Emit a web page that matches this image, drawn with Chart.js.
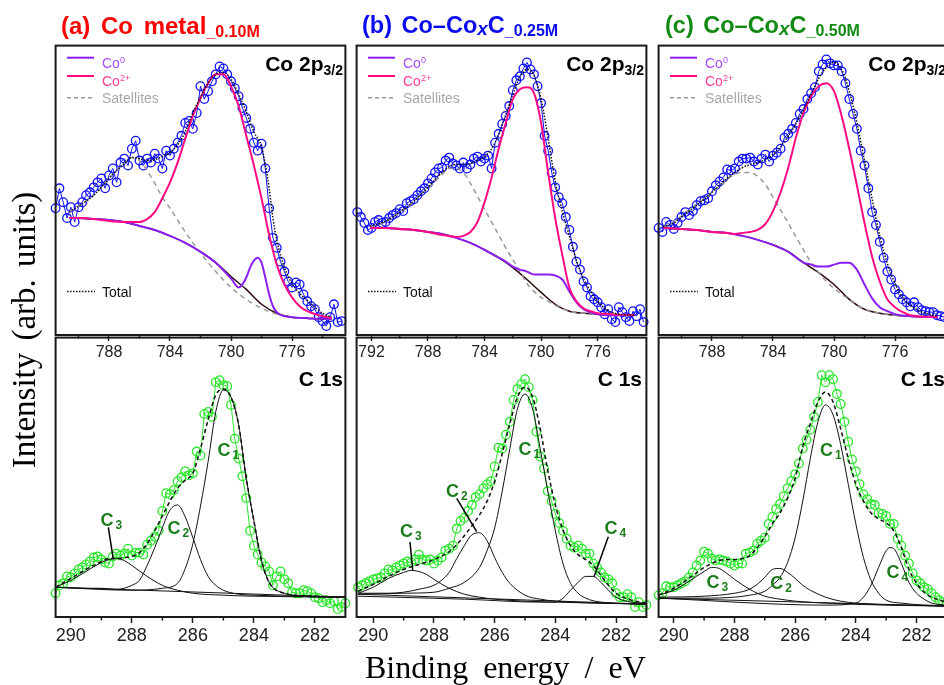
<!DOCTYPE html>
<html><head><meta charset="utf-8">
<script src="https://cdn.jsdelivr.net/npm/chart.js@4.4.1/dist/chart.umd.min.js"></script>
<style>
html,body{margin:0;padding:0;overflow:hidden;background:#fff}
#wrap{position:relative;width:944px;height:685px;overflow:hidden;font-family:"Liberation Sans",Arial,sans-serif}
canvas{position:absolute}
.t{position:absolute;white-space:nowrap}
.title{font-weight:bold;font-size:23.5px;line-height:23px;top:14px;word-spacing:3px}
.title sub{font-size:16px;vertical-align:-3px;word-spacing:0}
.title i{font-size:19px;vertical-align:-2px}
.co{font-weight:bold;font-size:21px;line-height:21px;top:53px}
.co sub{font-size:14px;vertical-align:-4px}
.c1s{font-weight:bold;font-size:21px;line-height:21px;top:368px}
.lg{font-size:14px;line-height:14px}
.lg sup{font-size:9px;vertical-align:5px}
.cl{font-weight:bold;font-size:18px;line-height:18px;color:#1b7d1b}
.cl sub{font-size:12px;vertical-align:-3px;margin-left:2px}
.ytitle{font-family:"Liberation Serif","Times New Roman",serif;font-size:33px;line-height:40px;width:400px;text-align:center;left:-176px;top:310px;transform:rotate(-90deg);word-spacing:4px}
.xtitle{font-family:"Liberation Serif","Times New Roman",serif;font-size:32px;line-height:32px;left:365px;top:651px;word-spacing:7px}
</style></head>
<body><div id="wrap">
<canvas id="aT"></canvas><canvas id="bT"></canvas><canvas id="cT"></canvas>
<canvas id="aB"></canvas><canvas id="bB"></canvas><canvas id="cB"></canvas>
<svg width="944" height="685" style="position:absolute;left:0;top:0">
 <g stroke-width="2" fill="none">
  <line x1="67" y1="57.7" x2="94" y2="57.7" stroke="#8b1ef2"/><line x1="67" y1="76" x2="94" y2="76" stroke="#ff0a82"/>
  <line x1="67" y1="97.7" x2="94" y2="97.7" stroke="#9a9a9a" stroke-width="1.6" stroke-dasharray="4,3"/>
  <line x1="67" y1="291.5" x2="95" y2="291.5" stroke="#111" stroke-width="1.5" stroke-dasharray="1.5,1.5"/>
  <line x1="368" y1="57.7" x2="395" y2="57.7" stroke="#8b1ef2"/><line x1="368" y1="76" x2="395" y2="76" stroke="#ff0a82"/>
  <line x1="368" y1="97.7" x2="395" y2="97.7" stroke="#9a9a9a" stroke-width="1.6" stroke-dasharray="4,3"/>
  <line x1="368" y1="291.5" x2="396" y2="291.5" stroke="#111" stroke-width="1.5" stroke-dasharray="1.5,1.5"/>
  <line x1="670" y1="57.7" x2="697" y2="57.7" stroke="#8b1ef2"/><line x1="670" y1="76" x2="697" y2="76" stroke="#ff0a82"/>
  <line x1="670" y1="97.7" x2="697" y2="97.7" stroke="#9a9a9a" stroke-width="1.6" stroke-dasharray="4,3"/>
  <line x1="670" y1="291.5" x2="698" y2="291.5" stroke="#111" stroke-width="1.5" stroke-dasharray="1.5,1.5"/>
 </g>
 <g stroke="#000" stroke-width="1.5">
  <line x1="108.3" y1="527.3" x2="113.3" y2="559.3"/>
  <line x1="456.7" y1="498.3" x2="476.7" y2="531.7"/>
  <line x1="410" y1="542" x2="412.7" y2="570"/>
  <line x1="608.3" y1="536.7" x2="594" y2="576.7"/>
 </g>
</svg>
<div class="t title" style="left:61px;color:#ff0000;font-size:24px;word-spacing:4px">(a) Co metal<sub>_0.10M</sub></div>
<div class="t title" style="left:362px;color:#0b0bf0">(b) Co–Co<i>x</i>C<sub>_0.25M</sub></div>
<div class="t title" style="left:665px;color:#138a13">(c) Co–Co<i>x</i>C<sub>_0.50M</sub></div>

<div class="t co" style="right:601px">Co 2p<sub>3/2</sub></div>
<div class="t co" style="right:300px">Co 2p<sub>3/2</sub></div>
<div class="t co" style="right:-2px">Co 2p<sub>3/2</sub></div>
<div class="t c1s" style="right:601px">C 1s</div>
<div class="t c1s" style="right:302px">C 1s</div>
<div class="t c1s" style="right:-1px">C 1s</div>

<div class="t lg" style="left:102px;top:52.7px;color:#a64df5">Co<sup>0</sup></div>
<div class="t lg" style="left:102px;top:70.7px;color:#ff3d9a">Co<sup>2+</sup></div>
<div class="t lg" style="left:102px;top:91.2px;color:#a8a8a8">Satellites</div>
<div class="t lg" style="left:102px;top:285px;color:#111">Total</div>
<div class="t lg" style="left:403px;top:52.7px;color:#a64df5">Co<sup>0</sup></div>
<div class="t lg" style="left:403px;top:70.7px;color:#ff3d9a">Co<sup>2+</sup></div>
<div class="t lg" style="left:403px;top:91.2px;color:#a8a8a8">Satellites</div>
<div class="t lg" style="left:403px;top:285px;color:#111">Total</div>
<div class="t lg" style="left:705px;top:52.7px;color:#a64df5">Co<sup>0</sup></div>
<div class="t lg" style="left:705px;top:70.7px;color:#ff3d9a">Co<sup>2+</sup></div>
<div class="t lg" style="left:705px;top:91.2px;color:#a8a8a8">Satellites</div>
<div class="t lg" style="left:705px;top:285px;color:#111">Total</div>

<div class="t cl" style="left:217.5px;top:440.7px">C<sub>1</sub></div>
<div class="t cl" style="left:167.5px;top:519.2px">C<sub>2</sub></div>
<div class="t cl" style="left:100.5px;top:510.7px">C<sub>3</sub></div>
<div class="t cl" style="left:518.5px;top:440.2px">C<sub>1</sub></div>
<div class="t cl" style="left:446px;top:481.7px">C<sub>2</sub></div>
<div class="t cl" style="left:400px;top:521.7px">C<sub>3</sub></div>
<div class="t cl" style="left:604.5px;top:518.7px">C<sub>4</sub></div>
<div class="t cl" style="left:820px;top:440.7px">C<sub>1</sub></div>
<div class="t cl" style="left:770.2px;top:574.2px">C<sub>2</sub></div>
<div class="t cl" style="left:706.5px;top:572.7px">C<sub>3</sub></div>
<div class="t cl" style="left:886.5px;top:562.7px">C<sub>4</sub></div>

<div class="t ytitle">Intensity (arb. units)</div>
<div class="t xtitle">Binding energy / eV</div>
</div>
<script>
// ---------- energies (eV) ----------
const E_CO = [791.5,791.25,791,790.75,790.5,790.25,790,789.75,789.5,789.25,789,788.75,788.5,788.25,788,787.75,787.5,787.25,787,786.75,786.5,786.25,786,785.75,785.5,785.25,785,784.75,784.5,784.25,784,783.75,783.5,783.25,783,782.75,782.5,782.25,782,781.75,781.5,781.25,781,780.75,780.5,780.25,780,779.75,779.5,779.25,779,778.75,778.5,778.25,778,777.75,777.5,777.25,777,776.75,776.5,776.25,776,775.75,775.5,775.25,775,774.75,774.5,774.25,774,773.75,773.5,773.25,773,772.75];
const E_CO_B = [793,792.75,792.5,792.25,792,791.75,791.5,791.25,791,790.75,790.5,790.25,790,789.75,789.5,789.25,789,788.75,788.5,788.25,788,787.75,787.5,787.25,787,786.75,786.5,786.25,786,785.75,785.5,785.25,785,784.75,784.5,784.25,784,783.75,783.5,783.25,783,782.75,782.5,782.25,782,781.75,781.5,781.25,781,780.75,780.5,780.25,780,779.75,779.5,779.25,779,778.75,778.5,778.25,778,777.75,777.5,777.25,777,776.75,776.5,776.25,776,775.75,775.5,775.25,775,774.75,774.5,774.25,774,773.75,773.5,773.25,773,772.75];
const E_C1S = [290.5,290.375,290.25,290.125,290,289.875,289.75,289.625,289.5,289.375,289.25,289.125,289,288.875,288.75,288.625,288.5,288.375,288.25,288.125,288,287.875,287.75,287.625,287.5,287.375,287.25,287.125,287,286.875,286.75,286.625,286.5,286.375,286.25,286.125,286,285.875,285.75,285.625,285.5,285.375,285.25,285.125,285,284.875,284.75,284.625,284.5,284.375,284.25,284.125,284,283.875,283.75,283.625,283.5,283.375,283.25,283.125,283,282.875,282.75,282.625,282.5,282.375,282.25,282.125,282,281.875,281.75,281.625,281.5,281.375,281.25,281.125,281];

// ---------- measured spectra ----------
const A_CO_I = [128,148,134,118,129,114,129,134,141,144,149,154,158,148,161,168,154,174,178,171,188,196,176,171,178,174,183,178,168,186,181,188,194,201,214,216,208,224,251,238,246,256,263,271,269,263,256,249,241,229,219,208,194,186,193,168,128,98,88,74,64,54,48,53,51,41,34,29,26,18,14,9,18,31,13,14];
const B_CO_I = [124,119,113,106,108,114,116,113,114,118,121,123,127,125,133,135,137,141,145,148,153,158,164,168,169,176,179,173,171,168,174,168,172,178,180,175,178,181,168,194,203,213,221,231,247,257,261,269,275,268,263,251,234,201,186,164,149,139,133,119,106,89,74,66,54,48,39,36,33,28,21,26,16,13,28,23,18,14,24,19,26,13];
const C_CO_I = [108,104,114,111,107,113,119,124,121,125,131,135,136,138,145,151,155,159,167,166,168,175,178,178,179,175,172,178,182,175,181,184,188,199,203,208,214,223,228,238,244,250,266,273,278,274,272,272,266,254,238,223,208,186,171,148,124,111,94,78,64,56,46,41,36,33,29,33,28,25,24,23,23,20,19,18];
const A_C1S_I = [24,32,34,41,40,44,48,50,53,56,60,61,58,55,54,61,64,62,64,69,62,65,65,63,73,77,81,87,107,125,124,128,137,141,147,143,145,167,163,205,207,202,237,239,234,233,214,180,160,142,120,87,72,63,55,51,46,32,41,46,38,34,25,24,24,27,26,24,20,19,15,17,14,16,8,10,14];
const B_C1S_I = [30,32,34,36,38,39,40,44,48,47,50,52,54,56,55,58,63,58,57,58,54,57,60,67,69,72,89,97,100,107,113,121,124,130,134,137,152,171,170,184,197,219,230,235,240,232,219,187,162,150,127,117,104,95,87,79,72,70,72,69,64,64,54,50,45,40,38,34,24,20,20,23,20,10,15,10,12];
const C_C1S_I = [22,24,31,30,30,32,34,36,40,45,52,57,66,64,59,57,58,57,56,54,52,54,54,64,65,67,74,77,80,94,101,109,114,122,130,137,144,155,170,179,189,202,217,244,237,244,240,225,215,197,177,159,147,134,124,119,114,113,105,104,102,94,94,79,72,62,54,44,37,34,30,28,24,20,17,15,14];

// ---------- Co 2p3/2 fit components ----------
const A_BG_E = [790.6,790,789,788,787,786,785,784,783,782,781,780,779,778,777,776,775,774,773.4];
const A_BG_I = [118,118,117,116,114,110,106,100,93,84,73,59,46,31,22,18,17,16,16];
const A_CO2_E = [790.6,790,789,788,787,786,785.5,785,784.5,784,783.5,783,782.5,782,781.5,781,780.5,780,779.5,779,778.5,778,777.5,777,776.5,776,775.5,775,774,773.4];
const A_CO2_I = [118,118,117,115,114,114,117,124,138,154,174,198,221,239,254,263,263,251,231,201,171,138,101,71,51,38,29,24,19,17];
const A_CO0_E = [790.6,790,789,788,787,786,785,784,783,782,781,780,779.5,779.25,779,778.75,778.5,778.25,778,777.75,777.5,777.25,777,776.5,776,775,773.4];
const A_CO0_I = [118,118,117,116,114,110,106,100,93,84,73,57,48,51,58,68,75,78,73,58,41,29,23,19,18,17,16];
const A_SAT_E = [790.6,790,789.5,789,788.5,788,787.5,787,786.5,786,785.5,785,784.5,784,783.5,783,782.5,782,781.5,781,780,779,778,777,776,775,773.4];
const A_SAT_I = [124,130,135,141,149,158,166,173,179,176,166,153,139,128,116,104,93,83,73,64,48,36,27,21,18,17,16];
const A_TOT_E = [790.6,790,789.5,789,788.5,788,787.5,787,786.5,786,785.5,785,784.5,784,783.5,783,782.5,782,781.5,781,780.5,780,779.5,779,778.5,778,777.75,777.5,777.25,777,776.5,776,775.5,775,774.5,774,773.4];
const A_TOT_I = [124,130,135,141,149,158,166,173,179,178,176,177,180,184,192,205,224,240,254,263,265,258,243,225,205,190,172,148,118,96,68,52,42,35,28,22,18];

const B_BG_E = [792.1,791,790,789,788,787,786,785,784,783,782,781,780,779,778,777,776,775,773.4];
const B_BG_I = [108,108,107,106,104,102,98,93,86,78,68,56,43,31,24,22,21,20,20];
const B_CO2_E = [792.1,791,790,789,788,787,786.5,786,785.5,785,784.5,784,783.5,783,782.5,782,781.5,781,780.5,780,779.5,779,778.5,778,777.5,777,776.5,776,775,773.4];
const B_CO2_I = [108,108,107,106,104,101,100,99,100,104,114,134,159,188,214,238,248,250,244,214,164,118,81,48,34,27,24,22,21,20];
const B_CO0_E = [792.1,791,790,789,788,787,786,785,784,783,782.5,782,781.5,781,780.5,780,779.5,779,778.5,778,777.5,777,776.5,776,775,773.4];
const B_CO0_I = [108,108,107,106,104,102,98,93,86,78,74,69,66,64,61,61,61,60,56,44,33,26,23,21,20,20];
const B_SAT_E = [792.1,791.5,791,790.5,790,789.5,789,788.5,788,787.5,787,786.5,786,785.5,785,784.5,784,783.5,783,782.5,782,781.5,781,780.5,780,779.5,779,778,777,776,775,773.4];
const B_SAT_I = [109,111,114,118,124,128,135,142,148,155,162,168,168,164,153,140,127,114,101,88,76,64,52,44,38,34,30,24,22,21,20,20];
const B_TOT_E = [792.1,791.5,791,790.5,790,789.5,789,788.5,788,787.5,787,786.5,786,785.5,785,784.5,784,783.5,783,782.5,782,781.5,781,780.5,780,779.5,779,778.5,778,777.5,777,776.5,776,775.5,775,774.5,773.4];
const B_TOT_I = [110,112,115,119,124,129,135,142,149,157,164,170,172,172,173,176,180,188,202,222,243,260,268,262,238,198,155,125,100,75,57,44,34,27,23,21,20];

const C_BG_E = [791.2,790,789,788,787,786,785,784,783,782,781,780,779,778,777,776,775,773.2];
const C_BG_I = [108,107,106,104,103,100,96,91,84,73,63,51,36,26,22,20,19,18];
const C_CO2_E = [791.2,790,789,788,787,786.5,786,785.5,785,784.5,784,783.5,783,782.5,782,781.5,781,780.5,780,779.5,779,778.5,778,777.5,777,776.5,776,775.5,775,773.2];
const C_CO2_I = [108,107,106,104,103,102,103,104,106,112,125,144,169,199,224,241,251,254,246,221,188,151,113,79,54,36,28,23,20,18];
const C_CO0_E = [791.2,790,789,788,787,786,785,784,783,782,781.5,781,780.5,780,779.5,779,778.5,778,777.5,777,776.5,776,775,773.2];
const C_CO0_I = [108,107,106,104,103,100,96,91,84,73,71,69,69,71,73,73,66,51,37,28,24,21,19,18];
const C_SAT_E = [791.2,791,790.5,790,789.5,789,788.5,788,787.5,787,786.5,786,785.5,785,784.5,784,783.5,783,782.5,782,781.5,781,780.5,780,779.5,779,778,777,776,775,773.2];
const C_SAT_I = [109,110,115,120,126,132,138,144,150,157,162,164,164,160,152,139,126,113,99,86,73,63,54,47,41,36,26,22,20,19,18];
const C_TOT_E = [791.2,790.5,790,789.5,789,788.5,788,787.5,787,786.5,786,785.5,785,784.5,784,783.5,783,782.5,782,781.5,781,780.5,780,779.5,779,778.5,778,777.5,777,776.5,776,775.5,775,774.5,774,773.2];
const C_TOT_I = [109,113,119,125,131,137,144,151,158,164,169,172,174,177,182,190,201,213,227,243,259,270,275,268,246,214,176,137,100,72,52,38,30,25,22,19];

// ---------- C 1s fit components ----------
const A_BASE_E = [290.5,281], A_BASE_I = [30,20];
const A_C3_E = [290.5,290,289.5,289,288.75,288.5,288.25,288,287.5,287,286.5,286,285,284,281];
const A_C3_I = [30,37,46,55,58,59,57,52,41,32,27,24,22,21,20];
const A_C2_E = [290.5,289.5,289,288.5,288.25,288,287.75,287.5,287.25,287,286.75,286.5,286.25,286,285.75,285.5,285.25,285,284.5,284,281];
const A_C2_I = [30,29,29,28,29,32,37,52,70,90,108,113,101,80,58,41,32,27,23,22,20];
const A_C1_E = [290.5,288,287,286.5,286.25,286,285.75,285.5,285.25,285,284.75,284.5,284.25,284,283.75,283.5,283.25,283,282.5,281];
const A_C1_I = [30,27,29,34,49,74,112,157,207,229,222,194,140,97,57,35,27,24,21,20];
const A_CTOT_E = [290.5,290,289.5,289,288.75,288.5,288.25,288,287.75,287.5,287.25,287,286.75,286.5,286.25,286,285.75,285.5,285.25,285,284.75,284.5,284.25,284,283.75,283.5,283,282,281];
const A_CTOT_I = [30,39,48,56,59,59,60,61,65,74,87,102,117,130,138,145,170,199,224,230,222,194,140,97,57,35,24,21,20];

const B_BASE_E = [290.5,281], B_BASE_I = [23,13];
const B_C3_E = [290.5,290,289.5,289,288.75,288.5,288.25,288,287.5,287,286.5,286,285,284,281];
const B_C3_I = [24,30,39,45,47,46,43,38,29,23,20,18,16,15,13];
const B_C2_E = [290.5,289.5,289,288.5,288,287.75,287.5,287.25,287,286.75,286.5,286.25,286,285.75,285.5,285,284.5,284,281];
const B_C2_I = [24,24,25,28,32,37,45,59,72,83,85,77,60,45,34,22,18,16,13];
const B_C1_E = [290.5,289,288,287.5,287,286.5,286.25,286,285.75,285.5,285.25,285,284.75,284.5,284.25,284,283.75,283.5,283.25,283,282.5,281];
const B_C1_I = [23,24,25,29,35,50,67,90,127,170,210,225,210,170,127,87,54,34,24,19,15,13];
const B_C4_E = [290.5,287,284.5,284,283.75,283.5,283.25,283,282.75,282.5,282.25,282,281.5,281];
const B_C4_I = [21,18,15,15,19,27,35,41,41,35,27,20,15,14];
const B_CTOT_E = [290.5,290,289.5,289,288.5,288,287.5,287.25,287,286.75,286.5,286.25,286,285.75,285.5,285.25,285,284.75,284.5,284.25,284,283.75,283.5,283.25,283,282.75,282.5,282.25,282,281.5,281];
const B_CTOT_I = [26,33,41,48,53,58,66,73,82,92,103,117,137,165,195,222,232,222,190,148,113,88,72,63,58,52,42,32,24,17,14];

const C_BASE_E = [290.5,281], C_BASE_I = [19,11];
const C_C3_E = [290.5,290,289.5,289,288.75,288.5,288.25,288,287.5,287,286.5,286,285,283,281];
const C_C3_I = [22,27,36,46,50,49,44,38,28,21,18,16,14,12,11];
const C_C2_E = [290.5,289,288,287.5,287.25,287,286.75,286.5,286.25,286,285.75,285.5,285,284.5,284,281];
const C_C2_I = [20,21,24,28,33,40,48,49,45,39,32,27,20,16,14,11];
const C_C1_E = [290.5,289,288,287.5,287,286.75,286.5,286.25,286,285.75,285.5,285.25,285,284.75,284.5,284.25,284,283.75,283.5,283.25,283,282.5,281];
const C_C1_I = [19,19,20,22,26,32,40,55,80,117,160,197,214,204,174,134,94,60,37,24,17,14,11];
const C_C4_E = [290.5,285,284,283.75,283.5,283.25,283,282.875,282.75,282.5,282.25,282,281.75,281.5,281];
const C_C4_I = [19,12,14,20,32,50,67,70,69,54,35,24,18,14,12];
const C_CTOT_E = [290.5,290,289.5,289,288.75,288.5,288.25,288,287.75,287.5,287.25,287,286.75,286.5,286.25,286,285.75,285.5,285.25,285,284.75,284.5,284.25,284,283.75,283.5,283.25,283,282.75,282.5,282.25,282,281.75,281.5,281];
const C_CTOT_I = [22,29,39,50,54,57,58,58,59,62,70,81,94,105,120,140,172,195,217,227,217,190,160,134,117,105,99,95,87,70,48,34,25,20,15];

// ---------- tick positions ----------
const CO_MINOR = [774,778,782,786,790];
const C1S_MINOR = [283,285,287,289];

// ---------- helpers ----------
const pts = (E, I) => E.map((e, i) => ({x: e, y: I[i]}));
const BLUE = '#1010ff', GREEN = '#2be62b', PURPLE = '#8b1ef2', PINK = '#ff0a82', GREY = '#9a9a9a', BGC = '#2b0a0a';

const dataDs = (E, I, c) => ({data: pts(E, I), borderColor: c, borderWidth: 1, pointRadius: 4.3,
  pointBorderWidth: 1.3, pointBorderColor: c, pointBackgroundColor: 'rgba(0,0,0,0)', pointStyle: 'circle',
  tension: 0, order: 20, clip: 6});
const fit = (E, I, c, w, dash, order) => ({data: pts(E, I), borderColor: c, borderWidth: w, borderDash: dash || [],
  pointRadius: 0, cubicInterpolationMode: 'monotone', order});

const framePlugin = {
  id: 'frame',
  afterDatasetsDraw(chart, args, opts) {
    const {ctx, chartArea: a} = chart, x = chart.scales.x;
    ctx.save();
    ctx.strokeStyle = '#1a1a1a'; ctx.lineWidth = 2;
    ctx.strokeRect(a.left, a.top, a.right - a.left, a.bottom - a.top);
    ctx.lineWidth = 1.5;
    (opts.minor || []).forEach(v => {
      const p = x.getPixelForValue(v);
      ctx.beginPath(); ctx.moveTo(p, a.bottom); ctx.lineTo(p, a.bottom + 3.5); ctx.stroke();
    });
    ctx.restore();
  }
};

function panel(id, left, top, w, h, xmin, xmax, ymax, step, minor, fs, axisH, datasets) {
  const cv = document.getElementById(id);
  cv.width = w; cv.height = h; cv.style.left = left + 'px'; cv.style.top = top + 'px';
  cv.style.width = w + 'px'; cv.style.height = h + 'px';
  new Chart(cv, {
    type: 'line',
    data: {datasets},
    plugins: [framePlugin],
    options: {
      responsive: false, animation: false, devicePixelRatio: 1,
      layout: {padding: {top: 3, left: 3, right: 3, bottom: 0}},
      plugins: {legend: {display: false}, tooltip: {enabled: false}, frame: {minor}},
      scales: {
        x: {type: 'linear', min: xmin, max: xmax, reverse: true,
          ticks: {stepSize: step, includeBounds: false, autoSkip: false, maxRotation: 0, padding: 2,
            color: '#222', font: {family: 'Liberation Sans, Arial, sans-serif', size: fs}, callback: v => String(v)},
          grid: {drawOnChartArea: false, drawTicks: true, tickLength: 6, tickWidth: 1.5, tickColor: '#222'},
          border: {display: false},
          afterFit: s => { s.height = axisH; }},
        y: {display: false, min: 0, max: ymax}
      }
    }
  });
}

// Co 2p3/2 panels
panel('aT', 50, 40, 301, 325, 772.5, 791.5, 292, 4, CO_MINOR, 16, 30, [
  fit(A_TOT_E, A_TOT_I, '#111', 1.5, [1.5, 1.5], 0),
  fit(A_CO2_E, A_CO2_I, PINK, 2, null, 1),
  fit(A_CO0_E, A_CO0_I, PURPLE, 2, null, 2),
  fit(A_SAT_E, A_SAT_I, GREY, 1.5, [5, 4], 3),
  fit(A_BG_E, A_BG_I, BGC, 1.5, null, 4),
  dataDs(E_CO, A_CO_I, BLUE)]);
panel('bT', 351, 40, 301, 325, 772.55, 793.05, 292, 4, CO_MINOR, 16, 30, [
  fit(B_TOT_E, B_TOT_I, '#111', 1.5, [1.5, 1.5], 0),
  fit(B_CO2_E, B_CO2_I, PINK, 2, null, 1),
  fit(B_CO0_E, B_CO0_I, PURPLE, 2, null, 2),
  fit(B_SAT_E, B_SAT_I, GREY, 1.5, [5, 4], 3),
  fit(B_BG_E, B_BG_I, BGC, 1.5, null, 4),
  dataDs(E_CO_B, B_CO_I, BLUE)]);
panel('cT', 653, 40, 301, 325, 772.5, 791.5, 292, 4, CO_MINOR, 16, 30, [
  fit(C_TOT_E, C_TOT_I, '#111', 1.5, [1.5, 1.5], 0),
  fit(C_CO2_E, C_CO2_I, PINK, 2, null, 1),
  fit(C_CO0_E, C_CO0_I, PURPLE, 2, null, 2),
  fit(C_SAT_E, C_SAT_I, GREY, 1.5, [5, 4], 3),
  fit(C_BG_E, C_BG_I, BGC, 1.5, null, 4),
  dataDs(E_CO, C_CO_I, BLUE)]);

// C 1s panels
panel('aB', 50, 332, 301, 317, 281, 290.5, 282, 2, C1S_MINOR, 18, 32, [
  fit(A_CTOT_E, A_CTOT_I, '#111', 1.5, [4, 3], 0),
  fit(A_C1_E, A_C1_I, '#111', 1, null, 1),
  fit(A_C2_E, A_C2_I, '#111', 1, null, 2),
  fit(A_C3_E, A_C3_I, '#111', 1, null, 3),
  fit(A_BASE_E, A_BASE_I, '#111', 1, null, 5),
  dataDs(E_C1S, A_C1S_I, GREEN)]);
panel('bB', 351, 332, 301, 317, 281, 290.55, 282, 2, C1S_MINOR, 18, 32, [
  fit(B_CTOT_E, B_CTOT_I, '#111', 1.5, [4, 3], 0),
  fit(B_C1_E, B_C1_I, '#111', 1, null, 1),
  fit(B_C2_E, B_C2_I, '#111', 1, null, 2),
  fit(B_C3_E, B_C3_I, '#111', 1, null, 3),
  fit(B_C4_E, B_C4_I, '#111', 1, null, 4),
  fit(B_BASE_E, B_BASE_I, '#111', 1, null, 5),
  dataDs(E_C1S, B_C1S_I, GREEN)]);
panel('cB', 653, 332, 301, 317, 280.95, 290.5, 282, 2, C1S_MINOR, 18, 32, [
  fit(C_CTOT_E, C_CTOT_I, '#111', 1.5, [4, 3], 0),
  fit(C_C1_E, C_C1_I, '#111', 1, null, 1),
  fit(C_C2_E, C_C2_I, '#111', 1, null, 2),
  fit(C_C3_E, C_C3_I, '#111', 1, null, 3),
  fit(C_C4_E, C_C4_I, '#111', 1, null, 4),
  fit(C_BASE_E, C_BASE_I, '#111', 1, null, 5),
  dataDs(E_C1S, C_C1S_I, GREEN)]);
</script>
</body></html>
